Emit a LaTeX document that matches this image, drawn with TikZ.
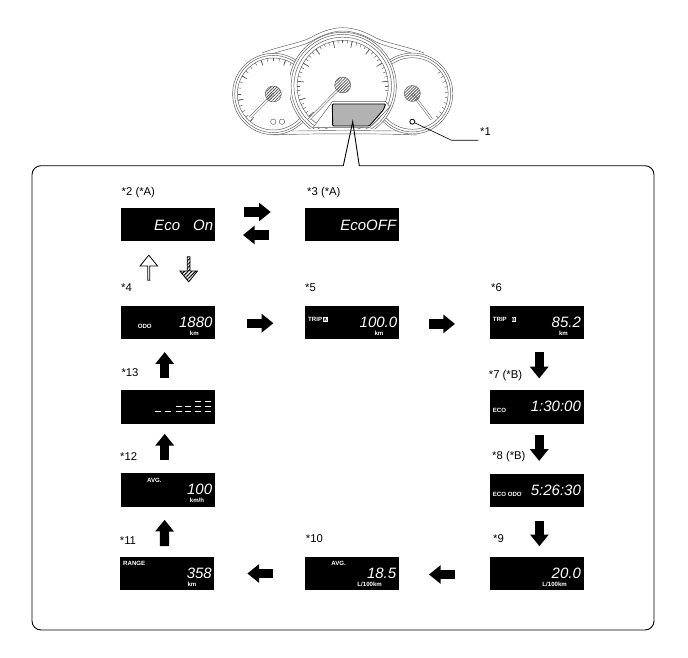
\documentclass[tikz,border=0pt]{standalone}
\usepackage{fontspec}
\setmainfont{Liberation Sans}
\usetikzlibrary{arrows.meta,positioning,shapes.arrows,patterns.meta}
\begin{document}
\begin{tikzpicture}[x=1pt,y=-1pt,
disp/.style={fill=black,minimum width=94pt,minimum height=33.4pt,inner sep=0pt,outer sep=0pt},
lbl/.style={inner sep=0pt,text depth=0pt,font=\fontsize{11.3}{12}\selectfont},
seg/.style={text=white,inner sep=0pt,anchor=east,font=\fontsize{15}{15}\selectfont\itshape},
tag/.style={text=white,inner sep=0pt,font=\fontsize{6.1}{6}\selectfont\bfseries},
badge/.style={fill=white,text=black,inner sep=.5pt,font=\fontsize{4.8}{5}\selectfont\bfseries},
flow/.style={line width=9.3pt,-{Triangle[length=11.7pt,width=18pt]}},
bigarrow/.style={single arrow,minimum width=17.5pt,minimum height=25pt,inner sep=0pt,single arrow head extend=3pt,single arrow tip angle=78},
dial/.style={draw=black!65,line width=.45pt},
hub/.style={dial,fill=white,pattern={Lines[angle=45,distance=2.1pt,line width=.8pt]},pattern color=black!65},
pointer/.style={draw=black!65,line width=.5pt,double=white,double distance=1.4pt},
frame/.style={draw=black,line width=.9pt}]
\useasboundingbox (0,0) rectangle (688,658);
% cluster housing
\draw[dial] (262,53) .. controls (280,46) and (300,43) .. (310,38) .. controls (320,32) and (332,27.7) .. (342.7,27.7) .. controls (354,27.7) and (366,32) .. (376,38) .. controls (386,43) and (406,46) .. (424,53);
\draw[dial] (266,56) .. controls (282,50) and (300,47) .. (311,41.5) .. controls (320,36) and (332,31) .. (342.7,31) .. controls (354,31) and (366,36) .. (375,41.5) .. controls (386,47) and (404,50) .. (420,56);
\foreach \c/\r in {(273.3,94)/40.7,(273.3,94)/38.6,(273.3,94)/36,(412.3,93.5)/40.5,(412.3,93.5)/38.4,(412.3,93.5)/35.8}
  \draw[dial,fill=white] \c circle[radius=\r];
\foreach \a in {130,140,...,310} \draw[dial] (273.3,94)++(\a:35.8)--++(\a:-3);
\foreach \a in {130,170,...,310} \draw[dial,line width=.7pt] (273.3,94)++(\a:35.8)--++(\a:-5.5);
\foreach \a in {-38,-29,...,48} \draw[dial] (412.3,93.5)++(\a:35.6)--++(\a:-3);
% centre dial, cut off below the display
\begin{scope}
\clip (290,20) rectangle (400,129);
\foreach \r in {53.7,51.6,48.8,45.6} \draw[dial,fill=white] (342.7,86) circle[radius=\r];
\foreach \a in {138,144,...,366} \draw[dial] (342.7,86)++(\a:45.6)--++(\a:-3);
\foreach \a in {138,162,...,366} \draw[dial,line width=.7pt] (342.7,86)++(\a:45.6)--++(\a:-6.5);
\end{scope}
\draw[dial,fill=white] (332.3,101.7)--(385.7,101.7)--(390,106.7)--(370,127.3)--(313.3,127.3)--cycle;
\draw[dial] (273,135)..controls (300,134) and (320,133.8)..(343,133.8)..controls (370,133.8) and (390,134)..(417,135);
\draw[dial] (292,131)..controls (310,131) and (325,130.5)..(343,130.5)..controls (365,130.5) and (380,131)..(398,131);
\draw[pointer] (342.7,85)--(309,119.3);
\draw[pointer] (273.3,94)--(250,117.3);
\draw[pointer] (412.3,93.5)--(431.7,119.3);
\foreach \c in {(342.7,85),(273.3,94),(412.3,93.5)} \draw[hub] \c circle[radius=8];
\draw[dial] (273.3,121.7) circle[radius=2.7] (282,121.7) circle[radius=2.7];
\draw[draw=black,line width=.9pt,fill=black!30,rounded corners=1pt] (332.3,104)--(385.7,104)--(383.3,110)--(369.3,126)--(332.7,126)--cycle;
\node[draw=black,line width=.8pt,circle,minimum size=5pt,inner sep=0pt,fill=white](knob) at (412.3,121.7){};
\node[lbl,anchor=south west](n1) at (480,136){*1};
\draw[line width=.6pt] (knob)--(451.7,140.3)--([shift={(-1.7,4.3)}]n1.south west);
\draw[frame] (352.7,121.7)--(359.3,165.7) [rounded corners=9pt] --(654,165.7)--(654,630)--(32,630)--(32,165.7) [sharp corners] --(343.3,165.7)--cycle;
% displays
\node[disp](d2) at (167.7,224.3){};
\node[disp,right=90.3pt of d2](d3){};
\node[disp,below=64.7pt of d2](d4){};
\node[disp,right=90.3pt of d4](d5){};
\node[disp,right=90.7pt of d5](d6){};
\node[disp,below=51pt of d6](d7){};
\node[disp,below=50pt of d7](d8){};
\node[disp,below=49.6pt of d8](d9){};
\node[disp,left=90.7pt of d9](d10){};
\node[disp,left=90.6pt of d10](d11){};
\node[disp,below=51pt of d4](d13){};
\node[disp,below=49.6pt of d13](d12){};
% labels over the displays
\node[lbl,above right=12pt and .8pt of d2.north west](l2){*2 (*A)};
\node[lbl,above right=12pt and 2pt of d3.north west](l3){*3 (*A)};
\node[lbl,above right=13.7pt and .3pt of d4.north west](l4){*4};
\node[lbl,above right=13.7pt and 0pt of d5.north west](l5){*5};
\node[lbl,above right=13.7pt and 1.3pt of d6.north west](l6){*6};
\node[lbl,above right=11pt and -1pt of d7.north west](l7){*7 (*B)};
\node[lbl,above right=13.5pt and 2.3pt of d8.north west](l8){*8 (*B)};
\node[lbl,above right=14pt and 3.3pt of d9.north west](l9){*9};
\node[lbl,above right=14pt and .7pt of d10.north west](l10){*10};
\node[lbl,above right=12pt and -.7pt of d11.north west](l11){*11};
\node[lbl,above right=12.5pt and -.7pt of d12.north west](l12){*12};
\node[lbl,above right=13.5pt and .6pt of d13.north west](l13){*13};
% display readings
\node[seg] at ([shift={(-1.4,1.4)}]d2.east){Eco\hspace{13pt}On};
\node[seg] at ([shift={(-2.6,1.4)}]d3.east){EcoOFF};
\node[seg](v4) at ([xshift=-2pt]d4.east){1880};
\node[seg](v5) at ([xshift=-1.6pt]d5.east){100.0};
\node[seg](v6) at ([xshift=-2.6pt]d6.east){85.2};
\node[seg](v7) at ([xshift=-2.6pt]d7.east){1:30:00};
\node[seg](v8) at ([xshift=-2.6pt]d8.east){5:26:30};
\node[seg](v9) at ([xshift=-2.6pt]d9.east){20.0};
\node[seg](v10) at ([xshift=-2.6pt]d10.east){18.5};
\node[seg](v11) at ([xshift=-2.4pt]d11.east){358};
\node[seg](v12) at ([xshift=-2.4pt]d12.east){100};
\node[tag] at ([shift={(26.6,11)}]d4.center){km};
\node[tag] at ([shift={(27,11)}]d5.center){km};
\node[tag] at ([shift={(26.8,11)}]d6.center){km};
\node[tag] at ([shift={(24.6,11)}]d11.center){km};
\node[tag] at ([shift={(29.3,11)}]d12.center){km/h};
\node[tag] at ([shift={(18,10.7)}]d9.center){L/100km};
\node[tag] at ([shift={(17.7,10.7)}]d10.center){L/100km};
\node[tag] at ([shift={(-23,3.5)}]d4.center){ODO};
\node[tag,anchor=west](t5) at ([shift={(3,-3)}]d5.west){TRIP};
\node[badge,right=.6pt of t5]{A};
\node[tag,anchor=west](t6) at ([shift={(3,-3)}]d6.west){TRIP};
\node[badge,right=4.5pt of t6]{B};
\node[tag,anchor=west] at ([shift={(3,4)}]d7.west){ECO};
\node[tag,anchor=west] at ([shift={(3,4)}]d8.west){ECO ODO};
\node[tag] at ([shift={(-13.3,-9.7)}]d10.center){AVG.};
\node[tag] at ([shift={(-13.3,-9.7)}]d12.center){AVG.};
\node[tag,anchor=west] at ([shift={(2.6,-10.3)}]d11.west){RANGE};
% dashes on the blank reading
\foreach \x/\y in {155/411.7,165/411.7,176/411.7,185/411.7,195/411.7,205/411.7,176/406.7,185/406.7,195/406.7,205/406.7,195/401.7,205/401.7}
  \draw[white,line width=1.6pt] ([shift={(\x-167.7,\y-406.9)}]d13.center) --++(6,0);
% arrows between displays
\draw[flow,shorten <=29.7pt,shorten >=34.3pt] ([yshift=12.3pt]d2.east)--([yshift=12.3pt]d3.west);
\draw[flow,shorten <=36pt,shorten >=28.3pt] ([yshift=-10.7pt]d3.west)--([yshift=-10.7pt]d2.east);
\draw[flow,shorten <=32.7pt,shorten >=31.6pt] ([yshift=-.8pt]d4.east)--([yshift=-.8pt]d5.west);
\draw[flow,shorten <=30pt,shorten >=34.7pt] ([yshift=-1.5pt]d5.east)--([yshift=-1.5pt]d6.west);
\draw[flow,shorten <=13pt,shorten >=11.7pt] ([xshift=2.5pt]d6.south)--([xshift=2.5pt]d7.north);
\draw[flow,shorten <=11.4pt,shorten >=12.6pt] ([xshift=2.5pt]d7.south)--([xshift=2.5pt]d8.north);
\draw[flow,shorten <=13.6pt,shorten >=10.3pt] ([xshift=2.7pt]d8.south)--([xshift=2.7pt]d9.north);
\draw[flow,shorten <=34.7pt,shorten >=30pt] ([yshift=-1.3pt]d9.west)--([yshift=-1.3pt]d10.east);
\draw[flow,shorten <=32pt,shorten >=33pt] ([yshift=-.3pt]d10.west)--([yshift=-.3pt]d11.east);
\draw[flow,shorten <=10.3pt,shorten >=13.3pt] ([xshift=-3pt]d11.north)--([xshift=-3pt]d12.south);
\draw[flow,shorten <=13.3pt,shorten >=10.3pt] ([xshift=-3pt]d12.north)--([xshift=-3pt]d13.south);
\draw[flow,shorten <=12pt,shorten >=13pt] ([xshift=-3pt]d13.north)--([xshift=-3pt]d4.south);
\node[bigarrow,draw=black,line width=.8pt,fill=white,rotate=90](up) at ([shift={(-18.9,27.3)}]d2.south){};
\node[bigarrow,draw=black,line width=.8pt,rotate=-90,pattern={Lines[angle=45,distance=2.6pt,line width=1.1pt]},pattern color=black](down) at ([shift={(21,27.5)}]d2.south){};
\end{tikzpicture}
\end{document}
